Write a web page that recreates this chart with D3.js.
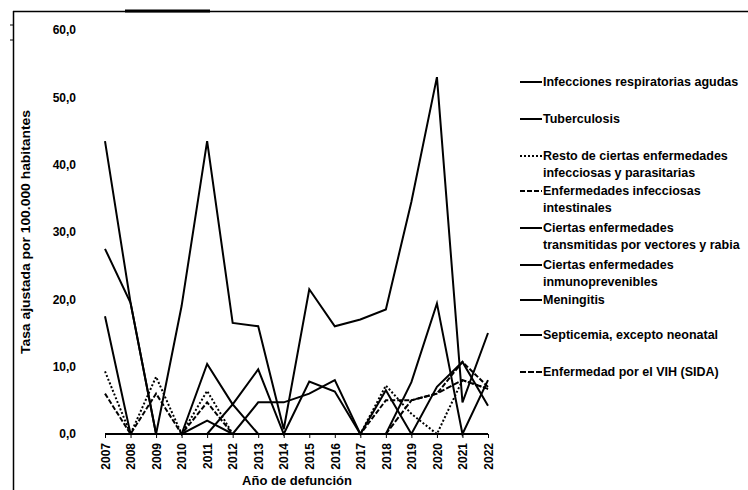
<!DOCTYPE html>
<html>
<head>
<meta charset="utf-8">
<script src="https://cdn.jsdelivr.net/npm/d3@7"></script>
<style>
  body { margin: 0; background: #fff; }
  svg { display: block; font-family: "Liberation Sans", Arial, sans-serif; }
</style>
</head>
<body>
<svg width="748" height="490"></svg>
<script>
// years on the x axis
var years = [2007, 2008, 2009, 2010, 2011, 2012, 2013, 2014, 2015, 2016, 2017, 2018, 2019, 2020, 2021, 2022];

// y ticks
var yTicks = [0, 10, 20, 30, 40, 50, 60];

// series values
var infeccionesRespiratorias = [43.5, 19.5, 0, 19, 43.5, 16.5, 16, 0.7, 21.5, 16, 17, 18.5, 34.5, 53, 4.7, 15];
var tuberculosis = [27.5, 19.5, 0, 0, 10.4, 4.4, 9.6, 0, 7.8, 6.3, 0, 0, 7.7, 19.4, 0, 8];
var restoInfecciosas = [9.3, 0, 8.5, 0, 6.4, 0, 0, 0, 0, 0, 0, 7.2, 3, 0, 8, 6.7];
var intestinales = [6, 0, 6, 0, 4.7, 0, 0, 0, 0, 0, 0, 5, 5, 6, 10.7, 7];
var vectores = [17.5, 0, 0, 0, 0, 4.4, 0, 0, 0, 0, 0, 0, 0, 0, 0, 0];
var inmunoprevenibles = [0, 0, 0, 0, 2, 0, 0, 0, 0, 0, 0, 0, 0, 0, 0, 0];
var meningitis = [0, 0, 0, 0, 0, 0, 0, 0, 0, 0, 0, 0, 0, 0, 0, 0];
var septicemia = [0, 0, 0, 0, 0, 0, 4.7, 4.7, 6, 8, 0, 6.5, 0, 7, 10.7, 4.2];
var vih = [0, 0, 0, 0, 0, 0, 0, 0, 0, 0, 0, 0, 5, 6, 8, 6.7];

var seriesNames = [
  ["Infecciones respiratorias agudas"],
  ["Tuberculosis"],
  ["Resto de ciertas enfermedades", "infecciosas y parasitarias"],
  ["Enfermedades infecciosas", "intestinales"],
  ["Ciertas enfermedades", "transmitidas por vectores y rabia"],
  ["Ciertas enfermedades", "inmunoprevenibles"],
  ["Meningitis"],
  ["Septicemia, excepto neonatal"],
  ["Enfermedad por el VIH (SIDA)"]
];
var seriesValues = [infeccionesRespiratorias, tuberculosis, restoInfecciosas, intestinales,
                    vectores, inmunoprevenibles, meningitis, septicemia, vih];
var seriesDash = [null, null, "2,2", "5,2", null, null, null, null, "6,2"];

var svg = d3.select("svg");

// frame bits at the top and left (cropped screenshot look)
svg.append("line").attr("x1", 13).attr("x2", 748).attr("y1", 11.5).attr("y2", 11.5)
   .attr("stroke", "#000").attr("stroke-width", 1.5);
svg.append("line").attr("x1", 125).attr("x2", 210).attr("y1", 11).attr("y2", 11)
   .attr("stroke", "#000").attr("stroke-width", 3);
svg.append("line").attr("x1", 13.5).attr("x2", 13.5).attr("y1", 11).attr("y2", 490)
   .attr("stroke", "#000").attr("stroke-width", 1.5);
[25, 40].forEach(function(y) {
  svg.append("line").attr("x1", 10).attr("x2", 13).attr("y1", y).attr("y2", y).attr("stroke", "#000");
});

var xScale = d3.scalePoint()
               .domain(years)
               .range([105, 488]);

var yScale = d3.scaleLinear()
               .domain([0, 60])
               .range([434, 30]);

// y axis: labels only
var yAxis = d3.axisLeft(yScale)
              .tickValues(yTicks)
              .tickSize(0)
              .tickPadding(0)
              .tickFormat(function(d) { return d3.format(".1f")(d).replace(".", ","); });

svg.append("g")
    .attr("transform", "translate(76,0)")
    .call(yAxis)
    .call(function(g) { g.select(".domain").remove(); })
    .selectAll("text")
      .attr("fill", "#000")
      .style("font-size", "12px")
      .style("font-weight", "bold")
      .style("font-family", "Liberation Sans, Arial, sans-serif");

// x axis: small ticks, rotated year labels
var xAxis = d3.axisBottom(xScale)
              .tickSize(4)
              .tickSizeOuter(0);

var gx = svg.append("g")
    .attr("transform", "translate(0,434)")
    .call(xAxis);
gx.select(".domain").remove();
gx.selectAll("line").attr("stroke", "#000");
gx.selectAll("text")
    .attr("fill", "#000")
    .attr("transform", "rotate(-90)")
    .attr("x", -9)
    .attr("y", 0)
    .attr("dy", "0.35em")
    .style("text-anchor", "end")
    .style("font-size", "12px")
    .style("font-weight", "bold")
    .style("font-family", "Liberation Sans, Arial, sans-serif");

// lines
var line = d3.line()
             .x(function(d, i) { return xScale(years[i]); })
             .y(function(d) { return yScale(d); });

svg.append("g")
  .selectAll("path")
  .data(seriesValues)
  .enter()
  .append("path")
    .attr("d", line)
    .attr("fill", "none")
    .attr("stroke", "#000")
    .attr("stroke-width", 2)
    .attr("stroke-dasharray", function(d, i) { return seriesDash[i]; })
    .attr("stroke-linejoin", "miter");

// legend
var legendY = [82, 119, 156, 191, 228, 265, 300, 335, 372];
var legend = svg.append("g");
seriesNames.forEach(function(names, i) {
  var g = legend.append("g").attr("transform", "translate(0," + legendY[i] + ")");
  g.append("line")
    .attr("x1", 520).attr("x2", 542).attr("y1", 0).attr("y2", 0)
    .attr("stroke", "#000")
    .attr("stroke-width", 2)
    .attr("stroke-dasharray", seriesDash[i]);
  names.forEach(function(t, j) {
    g.append("text")
      .attr("x", 543)
      .attr("y", j * 17)
      .attr("dy", "0.35em")
      .style("font-size", "12.5px")
      .style("font-weight", "bold")
      .text(t);
  });
});

// axis titles
svg.append("text")
    .attr("transform", "rotate(-90)")
    .attr("x", -232)
    .attr("y", 25)
    .attr("dy", "0.35em")
    .style("text-anchor", "middle")
    .style("font-size", "13px")
    .style("font-weight", "bold")
    .attr("textLength", 244)
    .attr("lengthAdjust", "spacingAndGlyphs")
    .text("Tasa ajustada por 100.000 habitantes");

svg.append("text")
    .attr("x", 297)
    .attr("y", 485)
    .style("text-anchor", "middle")
    .style("font-size", "13px")
    .style("font-weight", "bold")
    .text("Año de defunción");
</script>
</body>
</html>
